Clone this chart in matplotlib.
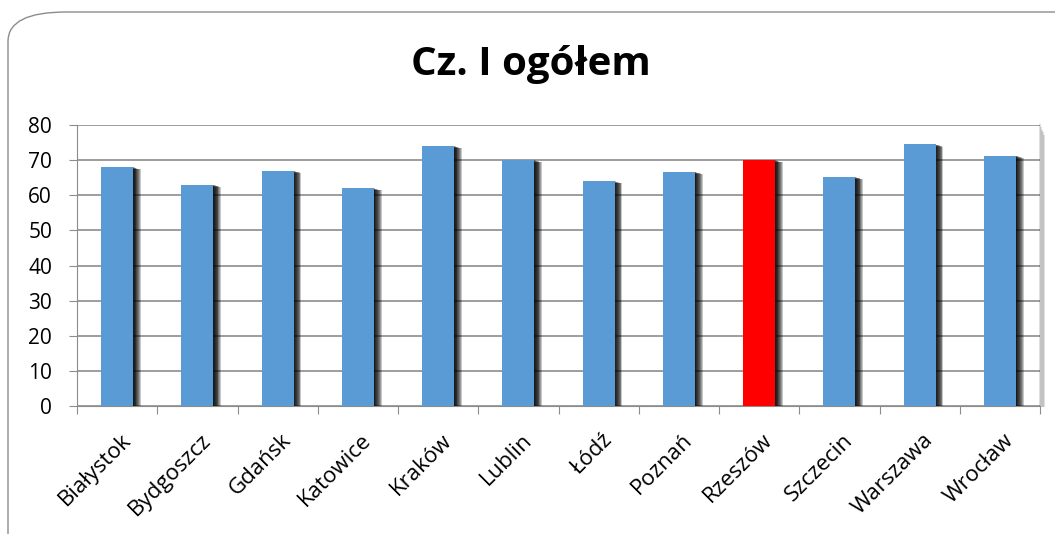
import matplotlib.pyplot as plt
import numpy as np
from matplotlib.patches import FancyBboxPatch

plt.rcParams['font.family'] = ['Open Sans', 'DejaVu Sans']

cities = ["Białystok", "Bydgoszcz", "Gdańsk", "Katowice", "Kraków", "Lublin",
          "Łódź", "Poznań", "Rzeszów", "Szczecin", "Warszawa", "Wrocław"]
values = [68, 63, 67, 62, 74, 70, 64, 66.7, 70, 65.2, 74.5, 71.3]
highlight = "Rzeszów"


def Main():
    fig = plt.figure(figsize=(10.55, 5.34), dpi=100)

    # rounded chart frame
    frame = FancyBboxPatch((8 / 1055, -0.1), 1.1, (534 - 12) / 534 + 0.1,
                           boxstyle="round,pad=0,rounding_size=0.055",
                           transform=fig.transFigure, fill=False,
                           edgecolor="#8c8c8c", linewidth=1.0)
    fig.patches.append(frame)

    ax = fig.add_axes([77 / 1055, 1 - 406 / 534, (1040 - 77) / 1055, (406 - 125) / 534])
    x = np.arange(len(cities))
    colors = ["#ff0000" if c == highlight else "#5b9bd5" for c in cities]

    # soft shadow behind bars
    for k in range(9):
        off = 0.008 + k * 0.011
        ax.bar(x + off, np.array(values) - k * 0.08, width=0.4, color="black",
               alpha=0.22, zorder=2, linewidth=0)
    ax.bar(x, values, width=0.4, color=colors, zorder=3, linewidth=0)

    # shadow along right edge of plot area
    for k in range(5):
        ax.axvline(len(cities) - 0.5 - 0.004 + k * 0.012, color="black",
                   alpha=0.12, linewidth=1.5, clip_on=False, ymax=1.0 - k * 0.01)

    ax.set_xlim(-0.5, len(cities) - 0.5)
    ax.set_ylim(0, 80)
    ax.set_yticks(np.arange(0, 81, 10))
    ax.yaxis.grid(True, color="#8c8c8c", linewidth=1.2, zorder=0)
    ax.set_axisbelow(True)

    # category ticks between bars
    ax.set_xticks(np.arange(-0.5, len(cities), 1))
    ax.set_xticklabels([])
    ax.set_xticks(x + 0.04, minor=True)
    ax.set_xticklabels(cities, minor=True, rotation=45, ha="right",
                       rotation_mode="anchor", fontsize=16)
    ax.tick_params(axis="x", which="minor", length=0, pad=17)
    ax.tick_params(axis="x", which="major", length=6, color="#8c8c8c")
    ax.tick_params(axis="y", length=6, pad=12, color="#8c8c8c", labelsize=15)

    for s in ["top", "right"]:
        ax.spines[s].set_visible(False)
    ax.spines["left"].set_color("#8c8c8c")
    ax.spines["bottom"].set_color("#8c8c8c")

    fig.text(0.5 + 3 / 1055, 1 - 65 / 534, "Cz. I ogółem", ha="center", va="center",
             fontsize=29, fontweight="bold")

    fig.savefig("out.png", dpi=100)


if __name__ == "__main__":
    Main()
